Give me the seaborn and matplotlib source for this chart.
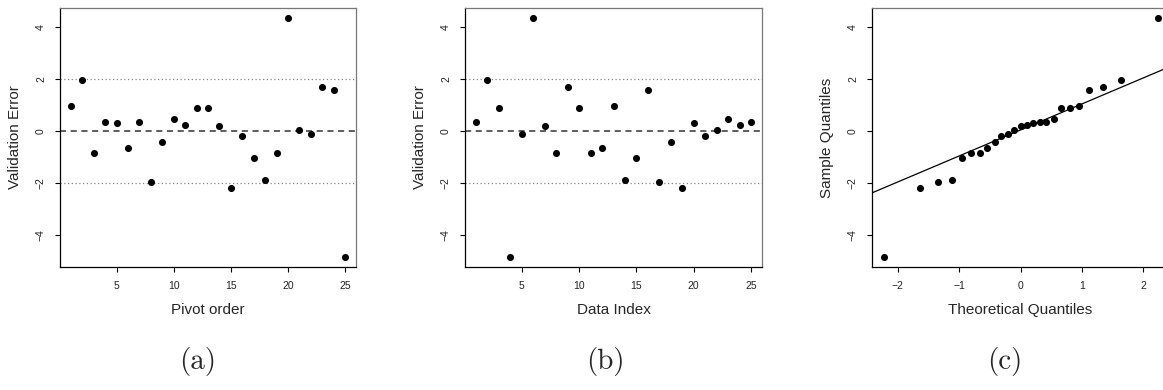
import numpy as np
import pandas as pd
import seaborn as sns
import matplotlib.pyplot as plt

# validation errors by data index
errors = [0.33, 1.94, 0.86, -4.86, -0.13, 4.35, 0.17, -0.84, 1.70, 0.86,
          -0.87, -0.68, 0.96, -1.88, -1.06, 1.58, -1.99, -0.45, -2.19, 0.29,
          -0.19, 0.03, 0.45, 0.23, 0.35]
# data index visited at each pivot position
pivot = [13, 2, 8, 25, 20, 12, 1, 17, 18, 23, 24, 3, 10, 7, 19, 21, 15, 14,
         11, 6, 22, 5, 9, 16, 4]
# theoretical quantiles
theo_q = [-2.23, -1.64, -1.34, -1.12, -0.95, -0.80, -0.66, -0.54, -0.42,
          -0.31, -0.21, -0.10, 0.00, 0.10, 0.21, 0.31, 0.42, 0.54, 0.66,
          0.80, 0.95, 1.12, 1.34, 1.64, 2.24]
qq_intercept = 0.03
qq_slope = 1.0

idx = np.arange(1, len(errors) + 1)
df_data = pd.DataFrame({"idx": idx, "err": errors})
df_pivot = pd.DataFrame({"idx": idx, "err": [errors[p - 1] for p in pivot]})
df_qq = pd.DataFrame({"x": theo_q, "y": sorted(errors)})

sns.set_style("ticks")
plt.rcParams['font.family'] = ['Liberation Sans', 'DejaVu Sans']

fig = plt.figure(figsize=(11.63, 3.9), dpi=100)
W, H = 1163, 390
def add_ax(left, right, top=8, bottom=267):
    return fig.add_axes([left / W, (H - bottom) / H, (right - left) / W, (bottom - top) / H])

ax_a = add_ax(60, 356)
ax_b = add_ax(465, 762)
ax_c = add_ax(872, 1169)

ylim = (-5.24, 4.72)

def style(ax, xlabel, ylabel):
    ax.set_ylim(*ylim)
    ax.set_yticks([-4, -2, 0, 2, 4])
    ax.set_yticklabels(["−4", "−2", "0", "2", "4"], rotation=90, va="center")
    ax.tick_params(axis="both", labelsize=7.5, length=3.6, width=0.8,
                   direction="out", color="black", labelcolor="#222222", pad=6.5)
    ax.set_xlabel(xlabel, fontsize=11)
    ax.set_ylabel(ylabel, fontsize=11)
    ax.xaxis.set_label_coords(0.5, -43 / 259)
    ax.xaxis.label.set_va("center")
    ax.yaxis.set_label_coords(-45 / 297, 0.5)
    ax.yaxis.label.set_va("center")
    for s in ["left", "bottom"]:
        ax.spines[s].set_color("black")
        ax.spines[s].set_linewidth(0.9)
    for s in ["top", "right"]:
        ax.spines[s].set_color("#777777")
        ax.spines[s].set_linewidth(0.9)

for ax, df, xl in [(ax_a, df_pivot, "Pivot order"), (ax_b, df_data, "Data Index")]:
    ax.axhline(0, color="#333333", ls=(0, (4, 3)), lw=1.1, zorder=1)
    ax.axhline(2, color="#888888", ls=(0, (1, 2)), lw=0.9, zorder=1)
    ax.axhline(-2, color="#888888", ls=(0, (1, 2)), lw=0.9, zorder=1)
    sns.scatterplot(data=df, x="idx", y="err", ax=ax, color="black", s=26,
                    linewidth=0, zorder=3)
    ax.set_xlim(0.04, 25.96)
    ax.set_xticks([5, 10, 15, 20, 25])
    style(ax, xl, "Validation Error")

sns.scatterplot(data=df_qq, x="x", y="y", ax=ax_c, color="black", s=26,
                linewidth=0, zorder=3)
ax_c.axline((0, qq_intercept), slope=qq_slope, color="black", lw=0.9, zorder=2)
ax_c.set_xlim(-2.42, 2.42)
ax_c.set_xticks([-2, -1, 0, 1, 2])
ax_c.set_xticklabels(["−2", "−1", "0", "1", "2"])
style(ax_c, "Theoretical Quantiles", "Sample Quantiles")

for x, lab in [(198, "(a)"), (605, "(b)"), (1005, "(c)")]:
    fig.text(x / W, 1 - 362 / H, lab, family="cmr10", fontsize=21,
             ha="center", va="center")

fig.savefig("out.png", dpi=100)
